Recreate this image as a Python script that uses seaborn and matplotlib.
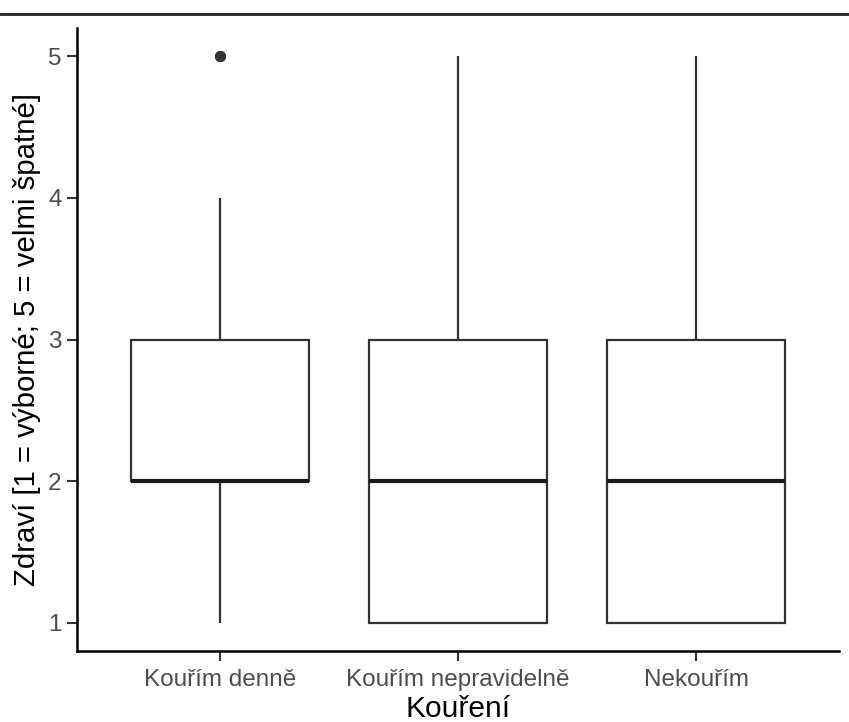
import numpy as np
import pandas as pd
import seaborn as sns
import matplotlib.pyplot as plt
from matplotlib.lines import Line2D

# Self-rated health (1 = excellent, 5 = very poor) by smoking status
categories = ["Kouřím denně", "Kouřím nepravidelně", "Nekouřím"]
levels = [1, 2, 3, 4, 5]
counts_daily = [10, 30, 25, 8, 2]
counts_irregular = [30, 25, 25, 12, 8]
counts_never = [35, 40, 30, 10, 5]
y_ticks = [1, 2, 3, 4, 5]

rows = []
for cat, counts in zip(categories, [counts_daily, counts_irregular, counts_never]):
    for lvl, n in zip(levels, counts):
        rows += [(cat, lvl)] * n
df = pd.DataFrame(rows, columns=["Kouření", "Zdraví"])

sns.set_theme(style="ticks")
plt.rcParams["font.family"] = ["Liberation Sans", "DejaVu Sans"]

fig = plt.figure(figsize=(8.49, 7.22), dpi=100, facecolor="white")
ax = fig.add_axes([77 / 849, 1 - 651 / 722, (839 - 77) / 849, (651 - 28) / 722])
ax.set_facecolor("white")

line_col = "#333333"
sns.boxplot(
    data=df, x="Kouření", y="Zdraví", order=categories, ax=ax,
    color="white", linecolor=line_col, linewidth=1.6, width=0.75,
    whis=1.5, showcaps=False,
    medianprops=dict(color="#1a1a1a", linewidth=3),
    flierprops=dict(marker="o", markerfacecolor=line_col,
                    markeredgecolor=line_col, markersize=7),
    boxprops=dict(facecolor="white", edgecolor=line_col),
)

ax.set_xlim(-0.6, 2.6)
ax.set_ylim(0.8, 5.2)
ax.set_yticks(y_ticks)
ax.set_yticklabels([str(t) for t in y_ticks])

for side in ["top", "right"]:
    ax.spines[side].set_visible(False)
for side in ["left", "bottom"]:
    ax.spines[side].set_color("black")
    ax.spines[side].set_linewidth(1.8)

ax.tick_params(axis="both", which="both", direction="out", length=7, width=1.5,
               color="#333333", labelcolor="#4d4d4d", labelsize=17.5, pad=4,
               top=False, right=False)
ax.tick_params(axis="x", pad=6)
ax.grid(False)

ax.set_xlabel("Kouření", fontsize=21.5, color="black", labelpad=3)
ax.set_ylabel("Zdraví [1 = výborné; 5 = velmi špatné]", fontsize=21.2,
              color="black", labelpad=5)

# Thin rule across the top of the figure
fig.add_artist(Line2D([0, 1], [1 - 14 / 722] * 2, color="#222222", linewidth=2,
                      transform=fig.transFigure))

fig.savefig("out.png", dpi=100, facecolor="white")
